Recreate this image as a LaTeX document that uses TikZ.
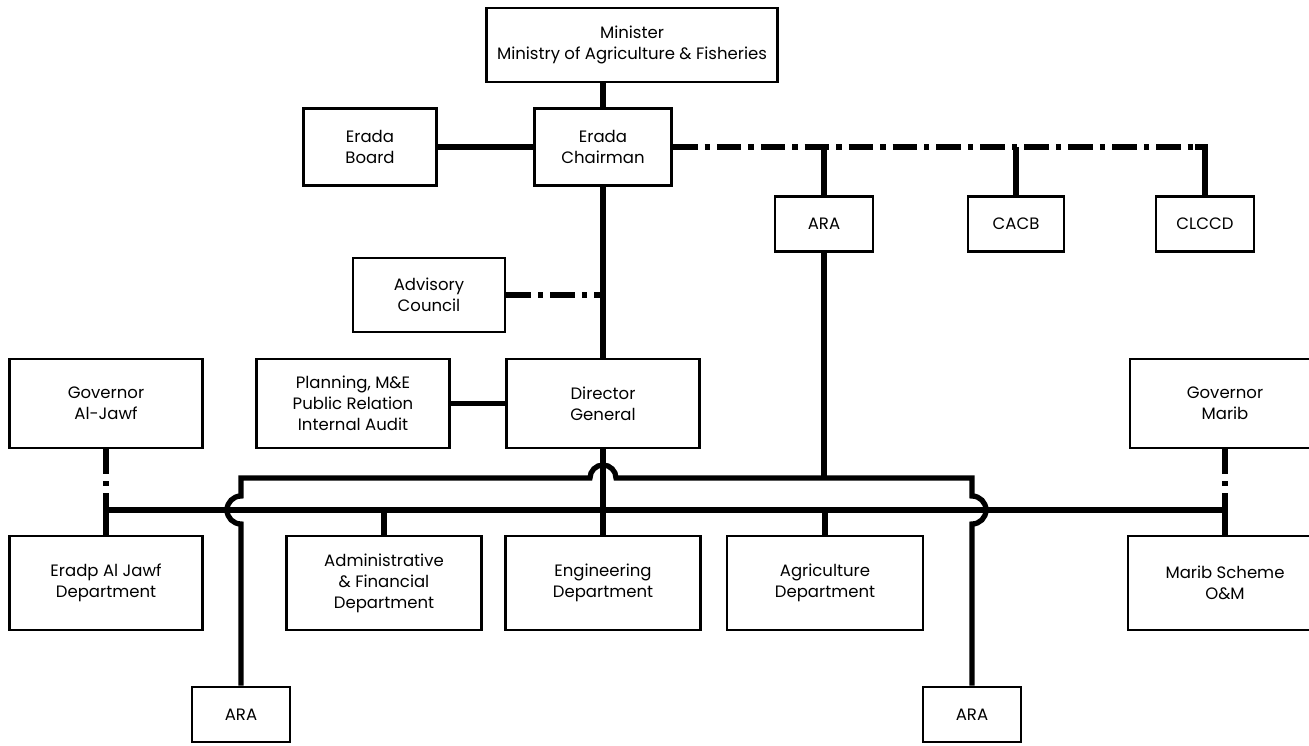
\documentclass[tikz,border=0pt]{standalone}
\usepackage{fontspec}
\setmainfont{Poppins}
\usetikzlibrary{calc}

\tikzset{
  wh/.style 2 args={minimum width=#1*0.02cm,minimum height=#2*0.02cm},
  dashdot/.style={line width=3pt,dash pattern=on 14pt off 4pt on 3pt off 4pt}
}

\begin{document}
\begin{tikzpicture}[x=0.02cm,y=0.02cm]
  \useasboundingbox (0,0) rectangle (1309,-745);

  \begin{scope}[every node/.style={draw,line width=1.6pt,align=center,inner sep=2pt,
      font=\fontsize{9.4}{12}\selectfont}]
    \node[wh={291}{74}] (minister) at (632,-45) {Minister\\Ministry of Agriculture \& Fisheries};
    \node[wh={133}{77}] (board) at (370,-147) {Erada\\Board};
    \node[wh={137}{77}] (chair) at (603,-147) {Erada\\Chairman};
    \node[wh={98}{55}] (araT) at (824,-224) {ARA};
    \node[wh={96}{55}] (cacb) at (1016,-224) {CACB};
    \node[wh={98}{55}] (clccd) at (1205,-224) {CLCCD};
    \node[wh={152}{74}] (adv) at (429,-295) {Advisory\\Council};
    \node[wh={193}{89}] (govJ) at (106,-403.5) {Governor\\Al-Jawf};
    \node[wh={193}{89}] (plan) at (353,-403.5) {Planning, M\&E\\Public Relation\\Internal Audit};
    \node[wh={193}{89}] (dg) at (603,-403.5) {Director\\General};
    \node[wh={190}{89}] (govM) at (1225,-403.5) {Governor\\Marib};
    \node[wh={193}{94}] (eradp) at (106,-583) {Eradp Al Jawf\\Department};
    \node[wh={195}{94}] (admin) at (384,-583) {Administrative\\\& Financial\\Department};
    \node[wh={195}{94}] (eng) at (603,-583) {Engineering\\Department};
    \node[wh={196}{94}] (agri) at (825,-583) {Agriculture\\Department};
    \node[wh={194}{94}] (marib) at (1225,-583) {Marib Scheme\\O\&M};
    \node[wh={98}{55}] (araL) at (241,-714.5) {ARA};
    \node[wh={98}{55}] (araR) at (972,-714.5) {ARA};
  \end{scope}

  \coordinate (upbus) at (0,-478);
  \coordinate (lowbus) at (0,-510);

  \begin{scope}[line width=3pt]
    \draw (minister.south -| chair.north) -- (chair.north);
    \draw (board.east) -- (chair.west);
    \draw (chair.south) -- (dg.north);
    \draw (plan.east) -- (dg.west);
    \draw (araT.north |- chair.east) -- (araT.north);
    \draw (cacb.north |- chair.east) -- (cacb.north);
    \draw ($(clccd.north |- chair.east)+(-10,0)$) -- (clccd.north |- chair.east) -- (clccd.north);
    \draw (araT.south) -- (araT.south |- upbus);
    \draw (eradp.north) -- (eradp.north |- lowbus) -- (marib.north |- lowbus) -- (marib.north);
    \draw (admin.north |- lowbus) -- (admin.north);
    \draw (agri.north |- lowbus) -- (agri.north);
    \draw (dg.south) -- (eng.north);
    \draw (araL.north) -- ($(araL.north |- lowbus)+(0,-14)$)
      arc[start angle=-90,end angle=-270,radius=14] -- (araL.north |- upbus)
      -- ($(dg.south |- upbus)+(-13,0)$) arc[start angle=180,end angle=0,radius=13]
      -- (araR.north |- upbus) -- ($(araR.north |- lowbus)+(0,14)$)
      arc[start angle=90,end angle=-90,radius=14] -- (araR.north);
  \end{scope}

  \begin{scope}[dashdot]
    \draw (chair.east) -- ($(clccd.north |- chair.east)+(-10,0)$);
    \draw (adv.east) -- (adv.east -| chair.south);
    \draw (govJ.south) -- (govJ.south |- lowbus);
    \draw (govM.south) -- (govM.south |- lowbus);
  \end{scope}

\end{tikzpicture}
\end{document}
